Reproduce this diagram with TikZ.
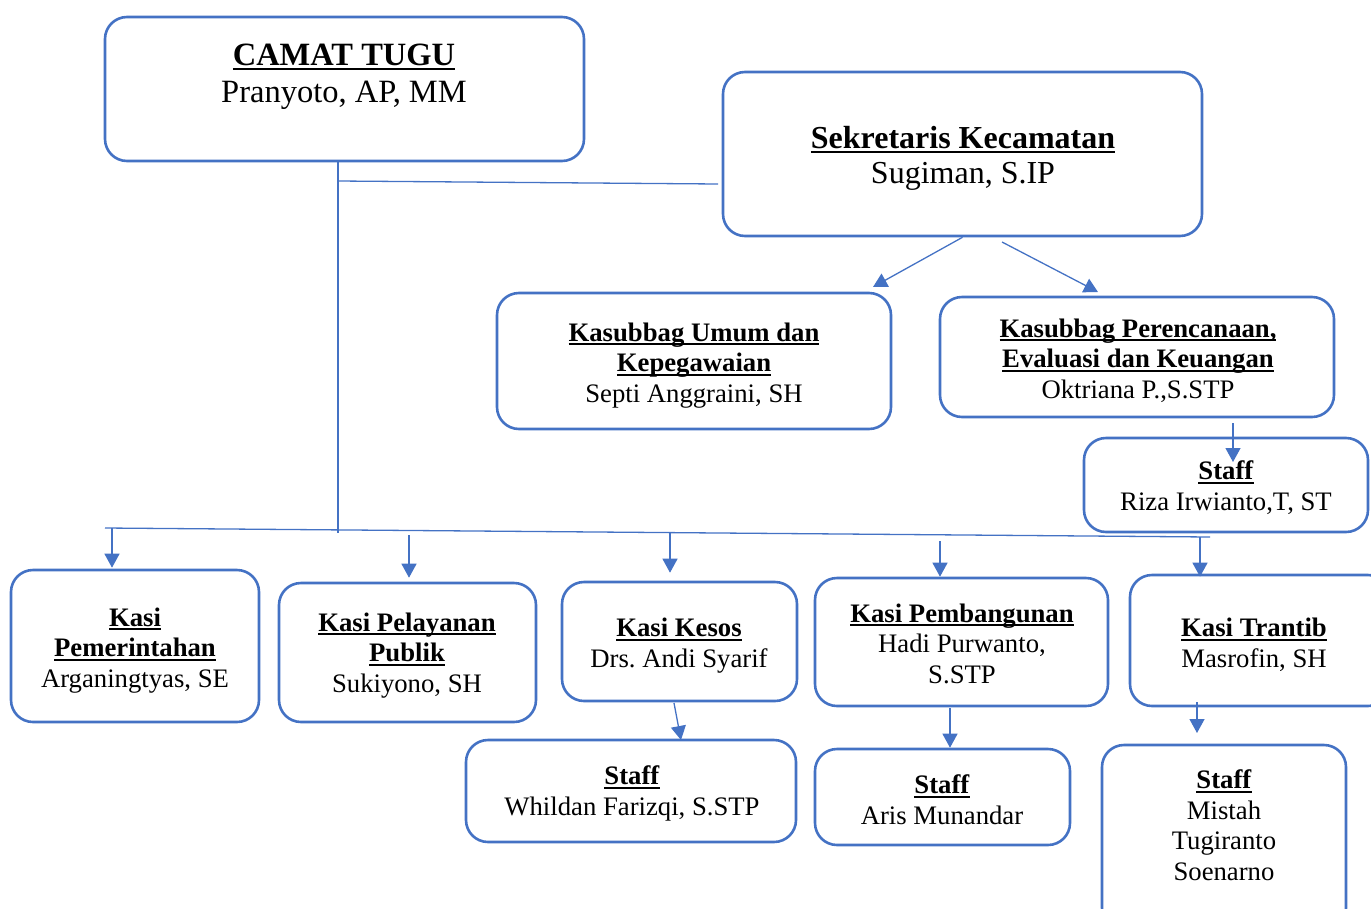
\documentclass[tikz,border=0pt]{standalone}
\usepackage{fontspec}
\setmainfont{Liberation Serif}
\usetikzlibrary{arrows.meta}
\frenchspacing
\definecolor{ob}{RGB}{68,114,196}
\newcommand\ulx[1]{\setbox0\hbox{#1}\rlap{\rule[-0.16em]{\wd0}{0.075em}}\box0}
\newcommand\bx[5]{\node[box,minimum width={#4-#2},minimum height={#5-#3}] (#1) at ({(#2+#4)/2},{(#3+#5)/2}) {};}
\begin{document}
\frenchspacing
\begin{tikzpicture}[x=1pt,y=-1pt,
  box/.style={draw=ob, line width=2.6pt, rounded corners=22pt, inner sep=0pt, fill=none},
  txt/.style={align=center, anchor=base, inner sep=0pt, text=black, execute at begin node=\frenchspacing},
  big/.style={font=\fontsize{32.5}{37}\selectfont},
  bigg/.style={font=\fontsize{32}{35}\selectfont},
  mid/.style={font=\fontsize{26.7}{30.5}\selectfont},
  conn/.style={draw=ob, line width=1.3pt},
  arr/.style={conn, -{Triangle[length=14pt,width=15pt]}}]
\useasboundingbox (0,0) rectangle (1371,908);
% boxes
\bx{camat}{105}{17}{584}{161}
\bx{sek}{723}{72}{1202}{236}
\bx{umum}{497}{293}{891}{429}
\bx{per}{940}{297}{1334}{417}
\bx{riza}{1084}{438}{1368}{532}
\bx{pem}{11}{570}{259}{722}
\bx{pel}{279}{583}{536}{722}
\bx{kes}{562}{582}{797}{701}
\bx{pmb}{815}{578}{1108}{706}
\bx{tra}{1130}{575}{1390}{706}
\bx{whi}{466}{740}{796}{842}
\bx{aris}{815}{749}{1070}{845}
\bx{mis}{1102}{745}{1346}{930}
% texts (anchored at the baseline of the last line)
\node[txt,big] (camat-t) at (344,102) {\ulx{\textbf{CAMAT TUGU}}\\Pranyoto, AP, MM};
\node[txt,bigg] (sek-t) at (963,183) {\ulx{\textbf{Sekretaris Kecamatan}}\\Sugiman, S.IP};
\node[txt,mid] (umum-t) at (694,402) {\ulx{\textbf{Kasubbag Umum dan}}\\\ulx{\textbf{Kepegawaian}}\\Septi Anggraini, SH};
\node[txt,mid] (per-t) at (1138,398) {\ulx{\textbf{Kasubbag Perencanaan,}}\\\ulx{\textbf{Evaluasi dan Keuangan}}\\Oktriana P.,S.STP};
\node[txt,mid] (riza-t) at (1226,510) {\ulx{\textbf{Staff}}\\Riza Irwianto,T, ST};
\node[txt,mid] (pem-t) at (135,687) {\ulx{\textbf{Kasi}}\\\ulx{\textbf{Pemerintahan}}\\Arganingtyas, SE};
\node[txt,mid] (pel-t) at (407,692) {\ulx{\textbf{Kasi Pelayanan}}\\\ulx{\textbf{Publik}}\\Sukiyono, SH};
\node[txt,mid] (kes-t) at (679,667) {\ulx{\textbf{Kasi Kesos}}\\Drs. Andi Syarif};
\node[txt,mid] (pmb-t) at (962,683) {\ulx{\textbf{Kasi Pembangunan}}\\Hadi Purwanto,\\S.STP};
\node[txt,mid] (tra-t) at (1254,667) {\ulx{\textbf{Kasi Trantib}}\\Masrofin, SH};
\node[txt,mid] (whi-t) at (632,815) {\ulx{\textbf{Staff}}\\Whildan Farizqi, S.STP};
\node[txt,mid] (aris-t) at (942,824) {\ulx{\textbf{Staff}}\\Aris Munandar};
\node[txt,mid] (mis-t) at (1224,880) {\ulx{\textbf{Staff}}\\Mistah\\Tugiranto\\Soenarno};
% connector coordinates
\coordinate (tb) at (338,533);
\coordinate (j1) at (338,181);
\coordinate (s1) at (718,184);
\coordinate (busL) at (105,528);
\coordinate (busR) at (1210,537);
\coordinate (d1) at (112,528);
\coordinate (d2) at (409,535);
\coordinate (d3) at (670,533);
\coordinate (d4) at (940,541);
\coordinate (d5) at (1200,537);
\coordinate (t1) at (873,287);
\coordinate (f2) at (1002,242);
\coordinate (t2) at (1098,292);
\coordinate (f3) at (1233,423);
\coordinate (t3) at (1233,462);
\coordinate (f4) at (674,703);
\coordinate (t4) at (681,740);
\coordinate (f5) at (950,708);
\coordinate (f6) at (1197,702);
\coordinate (t6) at (1197,733);
% connectors
\draw[conn] (camat.south -| tb) -- (tb);
\draw[conn] (j1) -- (s1);
\draw[conn] (busL) -- (busR);
\draw[arr,shorten >=1pt] (d1) -- (d1 |- pem.north);
\draw[arr,shorten >=4pt] (d2) -- (d2 |- pel.north);
\draw[arr,shorten >=8pt] (d3) -- (d3 |- kes.north);
\draw[arr] (d4) -- (d4 |- pmb.north);
\draw[arr,shorten >=-3pt] (d5) -- (d5 |- tra.north);
\draw[arr] (sek.south) -- (t1);
\draw[arr] (f2) -- (t2);
\draw[arr] (f3) -- (t3);
\draw[arr] (f4) -- (t4);
\draw[arr] (f5) -- (f5 |- aris.north);
\draw[arr] (f6) -- (t6);
\end{tikzpicture}
\end{document}
